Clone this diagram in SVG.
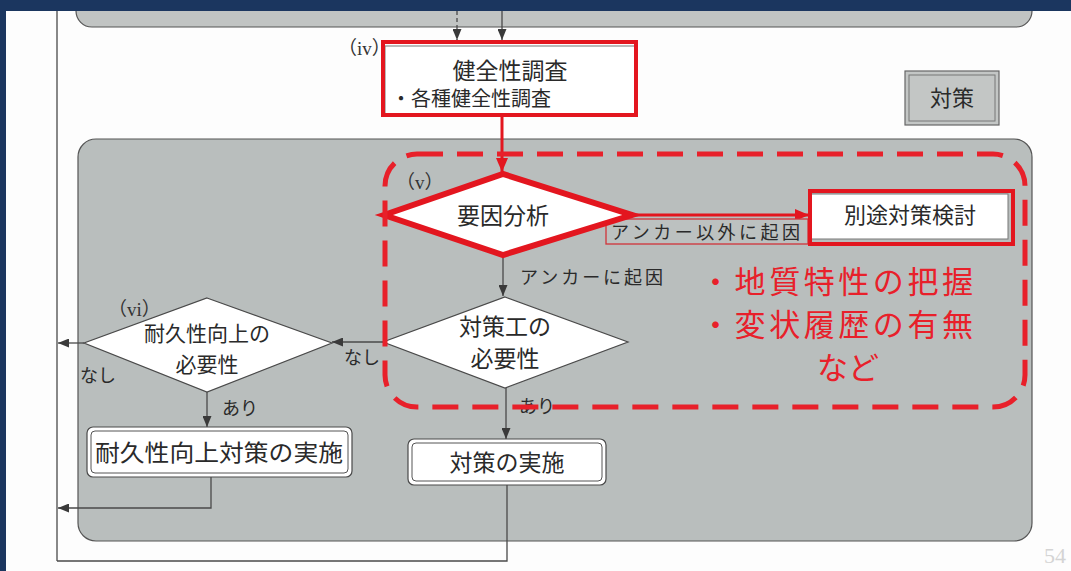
<svg xmlns="http://www.w3.org/2000/svg" width="1071" height="571" viewBox="0 0 1071 571">
<style>
.jp{font-family:"Noto Sans CJK JP","Noto Sans",sans-serif;fill:#2a2a2a}
.num{font-family:"Liberation Serif","Noto Sans CJK JP",serif;fill:#333;font-size:19px}
.red{font-family:"Noto Sans CJK JP","Noto Sans",sans-serif;fill:#e8202a;font-size:31px}
.ln{stroke:#4a4a4a;stroke-width:1.3;fill:none}
.rln{stroke:#e3161f;stroke-width:3;fill:none}
.box{fill:#fff;stroke:#4a4a4a;stroke-width:1.2}
.dia{fill:#fff;stroke:#4a4a4a;stroke-width:1.2}
</style>
<defs>
<marker id="ah" markerUnits="userSpaceOnUse" markerWidth="11" markerHeight="9" refX="11" refY="4.5" orient="auto"><path d="M0,0 L11,4.5 L0,9 z" fill="#3a3a3a"/></marker>
<marker id="rah" markerUnits="userSpaceOnUse" markerWidth="14" markerHeight="12" refX="14" refY="6" orient="auto"><path d="M0,0 L14,6 L0,12 z" fill="#e3161f"/></marker>
</defs>
<rect width="1071" height="571" fill="#fdfdfd"/>
<!-- top gray box -->
<rect id="topbox" x="76" y="-30" width="956" height="57" rx="16" fill="#c1c4c3" stroke="#555" stroke-width="1.2"/>
<!-- main gray box -->
<rect id="mainbox" x="78" y="139" width="954" height="402" rx="18" fill="#b9bebd" stroke="#555" stroke-width="1.2"/>
<!-- navy frame -->
<rect x="0" y="0" width="1071" height="11" fill="#1b365f"/>
<rect x="0" y="0" width="6" height="571" fill="#1b365f"/>

<g id="connectors">
<line x1="57" y1="11" x2="57" y2="561" class="ln"/>
<line x1="457" y1="11" x2="457" y2="40" class="ln" stroke-dasharray="4 3" marker-end="url(#ah)"/>
<line x1="502" y1="11" x2="502" y2="40" class="ln" marker-end="url(#ah)"/>
<line x1="502" y1="116" x2="502" y2="172" class="rln" marker-end="url(#rah)"/>
<line x1="633" y1="215" x2="809" y2="215" class="rln" marker-end="url(#rah)"/>
<line x1="503" y1="256" x2="503" y2="296" class="ln" marker-end="url(#ah)"/>
<line x1="383" y1="342" x2="332" y2="342" class="ln" marker-end="url(#ah)"/>
<line x1="84" y1="343" x2="58" y2="343" class="ln" marker-end="url(#ah)"/>
<line x1="207" y1="392" x2="207" y2="427" class="ln" marker-end="url(#ah)"/>
<polyline points="211,477 211,508 58,508" class="ln" marker-end="url(#ah)"/>
<line x1="506" y1="388" x2="506" y2="439" class="ln" marker-end="url(#ah)"/>
<polyline points="507,485 507,561 57,561" class="ln"/>
<g id="edge-labels">
<text x="520" y="284" class="jp" font-size="18" textLength="143" lengthAdjust="spacing">アンカーに起因</text>
<text x="344" y="364" class="jp" font-size="18">なし</text>
<text x="80" y="382" class="jp" font-size="18">なし</text>
<text x="222" y="415" class="jp" font-size="18">あり</text>
<text x="519" y="413" class="jp" font-size="18">あり</text>
<g id="label-other">
<rect x="606" y="219" width="202" height="25" fill="#bcc1c0" stroke="#d0343a" stroke-width="1.3"/>
<text x="611" y="239" class="jp" font-size="18" textLength="189" lengthAdjust="spacing">アンカー以外に起因</text>
</g>
</g>
</g>

<g id="node-kenzensei">
<rect x="385" y="46" width="250" height="70" fill="#fff" stroke="#777" stroke-width="1"/>
<rect x="383" y="42" width="253" height="73" fill="none" stroke="#e3161f" stroke-width="4"/>
<text x="510" y="79" class="jp" font-size="23" text-anchor="middle">健全性調査</text>
<text x="391" y="106" class="jp" font-size="20">・各種健全性調査</text>
<text x="338" y="55" class="num">（iv）</text>
</g>

<g id="node-taisaku-label">
<rect x="905" y="71" width="94" height="54" fill="#c3c6c5" stroke="#666" stroke-width="1.2"/>
<rect x="909" y="75" width="86" height="46" fill="none" stroke="#777" stroke-width="1"/>
<text x="952" y="106" class="jp" font-size="22" text-anchor="middle">対策</text>
</g>

<g id="node-youin">
<polygon points="384,215 503,174 632,215 503,255" fill="#fff" stroke="#e3161f" stroke-width="6" stroke-linejoin="miter"/>
<text x="503" y="224" class="jp" font-size="23" text-anchor="middle">要因分析</text>
<text x="396" y="189" class="num">（v）</text>
</g>

<g id="node-betto">
<rect x="811" y="194" width="197" height="45" fill="#fff" stroke="#777" stroke-width="1"/>
<rect x="810" y="191" width="203" height="53" fill="none" stroke="#e3161f" stroke-width="4"/>
<text x="910" y="223" class="jp" font-size="22" text-anchor="middle">別途対策検討</text>
</g>

<g id="node-hitsuyo">
<polygon points="505,297 628,342 505,388 383,342" class="dia"/>
<text x="505" y="335" class="jp" font-size="23" text-anchor="middle">対策工の</text>
<text x="505" y="367" class="jp" font-size="23" text-anchor="middle">必要性</text>
</g>

<g id="node-taikyu">
<polygon points="207,298 332,343 207,392 84,343" class="dia"/>
<text x="207" y="341" class="jp" font-size="21" text-anchor="middle">耐久性向上の</text>
<text x="207" y="372" class="jp" font-size="21" text-anchor="middle">必要性</text>
<text x="108" y="316" class="num">（vi）</text>
</g>

<g id="node-taikyu-jisshi">
<rect x="87" y="427" width="265" height="50" rx="6" class="box"/>
<rect x="91" y="431" width="257" height="42" rx="4" fill="none" stroke="#555" stroke-width="1"/>
<text x="219" y="461" class="jp" font-size="23" text-anchor="middle" textLength="248" lengthAdjust="spacingAndGlyphs">耐久性向上対策の実施</text>
</g>

<g id="node-jisshi">
<rect x="408" y="439" width="198" height="46" rx="6" class="box"/>
<rect x="412" y="443" width="190" height="38" rx="4" fill="none" stroke="#555" stroke-width="1"/>
<text x="507" y="471" class="jp" font-size="23" text-anchor="middle">対策の実施</text>
</g>

<g id="focus-frame">
<rect x="385" y="154" width="640" height="253" rx="32" fill="none" stroke="#e8202a" stroke-width="5" stroke-dasharray="26 14"/>
<text x="700" y="293" class="red" textLength="273" lengthAdjust="spacing">・地質特性の把握</text>
<text x="700" y="336" class="red" textLength="273" lengthAdjust="spacing">・変状履歴の有無</text>
<text x="848" y="379" class="red" text-anchor="middle">など</text>
</g>

<text x="1044" y="563" font-family="Liberation Serif,serif" font-size="22" fill="#d4d4d4">54</text>
</svg>
